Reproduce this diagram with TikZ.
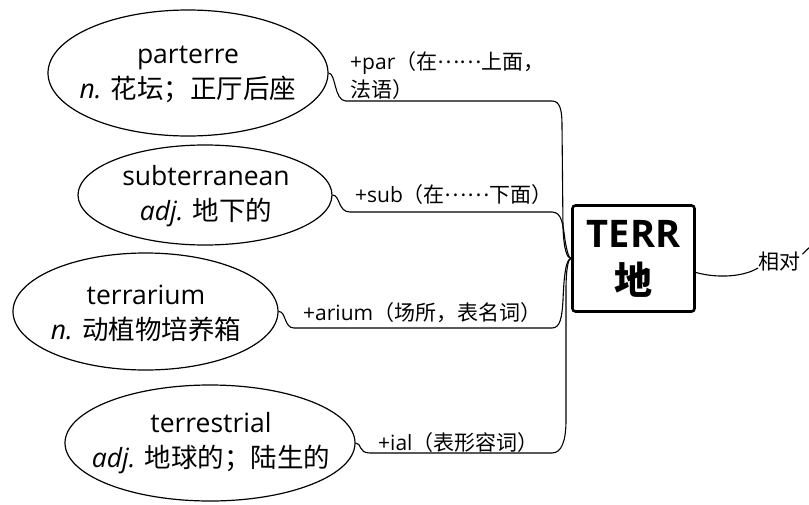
\documentclass[tikz,border=0pt]{standalone}
\usepackage{fontspec}
\setmainfont{Open Sans}
\newfontfamily\cjk{Noto Sans CJK SC}
\usetikzlibrary{shapes.geometric}
\newcommand{\middots}{\raisebox{0.32em}{……}}
\begin{document}
\begin{tikzpicture}[x=1pt,y=-1pt,
  bubble/.style={draw, ellipse, line width=1.2pt, inner sep=0pt},
  bubbletext/.style={align=center, inner sep=0pt, font=\fontsize{26.5}{35}\selectfont},
  lbl/.style={anchor=west, align=left, inner sep=0pt, font=\fontsize{21}{28}\selectfont},
  link/.style={line width=1.1pt},
  rootbox/.style={draw, line width=2.6pt, rounded corners=3pt, minimum width=122pt, minimum height=106pt, inner sep=0pt, align=center, font=\fontsize{38}{47}\selectfont\bfseries}]
\useasboundingbox (0,0) rectangle (809,504);

% bubbles
\node[bubble, minimum width=280pt, minimum height=126pt] (e1) at (188,73) {};
\node[bubble, minimum width=254pt, minimum height=100pt] (e2) at (205,195) {};
\node[bubble, minimum width=265pt, minimum height=117pt] (e3) at (145.5,311.5) {};
\node[bubble, minimum width=290pt, minimum height=116pt] (e4) at (210,443) {};

\node[bubbletext] (t1) at (188,74) {parterre\\\textit{n.} {\cjk 花坛；正厅后座}};
\node[bubbletext] (t2) at (206,196) {subterranean\\\textit{adj.} {\cjk 地下的}};
\node[bubbletext] (t3) at (146,313) {terrarium\\\textit{n.} {\cjk 动植物培养箱}};
\node[bubbletext] (t4) at (211,443) {terrestrial\\\textit{adj.} {\cjk 地球的；陆生的}};

% root
\node[rootbox] (box) at (633.5,258.5) {TERR\\{\cjk\bfseries 地}};

% labels
\node[lbl] (l1) at (350,76) {+par{\cjk （在\middots 上面，}\\{\cjk 法语）}};
\node[lbl] (l2) at (355,195) {+sub{\cjk （在\middots 下面）}};
\node[lbl] (l3) at (303,313) {+arium{\cjk （场所，表名词）}};
\node[lbl] (l4) at (378,443) {+ial{\cjk （表形容词）}};
\node[lbl, font=\fontsize{21}{24}\selectfont\cjk] (r1) at (758,262) {相对};

% connectors
\draw[link] (e1.east) .. controls (336,73) and (334,101) .. (346,101) -- (552,101)
  .. controls (560,101) and (562,110) .. (562,125) -- (563,228)
  .. controls (564,250) and (567,258.5) .. (box.west);
\draw[link] (e2.east) .. controls (340,195) and (338,212) .. (350,212) -- (552,212)
  .. controls (562,212) and (563,225) .. (565,240)
  .. controls (567,252) and (569,258.5) .. (box.west);
\draw[link] (e3.east) .. controls (286,311) and (284,328) .. (294,328) -- (552,328)
  .. controls (560,328) and (562,318) .. (563,300)
  .. controls (564,275) and (566,258.5) .. (box.west);
\draw[link] (e4.east) .. controls (362,443) and (358,453) .. (370,453) -- (552,453)
  .. controls (562,453) and (566,440) .. (566,420) -- (566,290)
  .. controls (566,270) and (568,258.5) .. (box.west);

\coordinate (tail) at (815,242);
\draw[link] ([yshift=-14pt]box.east) .. controls (720,279) and (745,276) .. ([yshift=-6pt]r1.west);
\draw[link] ([xshift=2pt,yshift=-2pt]r1.north east) -- (tail);
\end{tikzpicture}
\end{document}
